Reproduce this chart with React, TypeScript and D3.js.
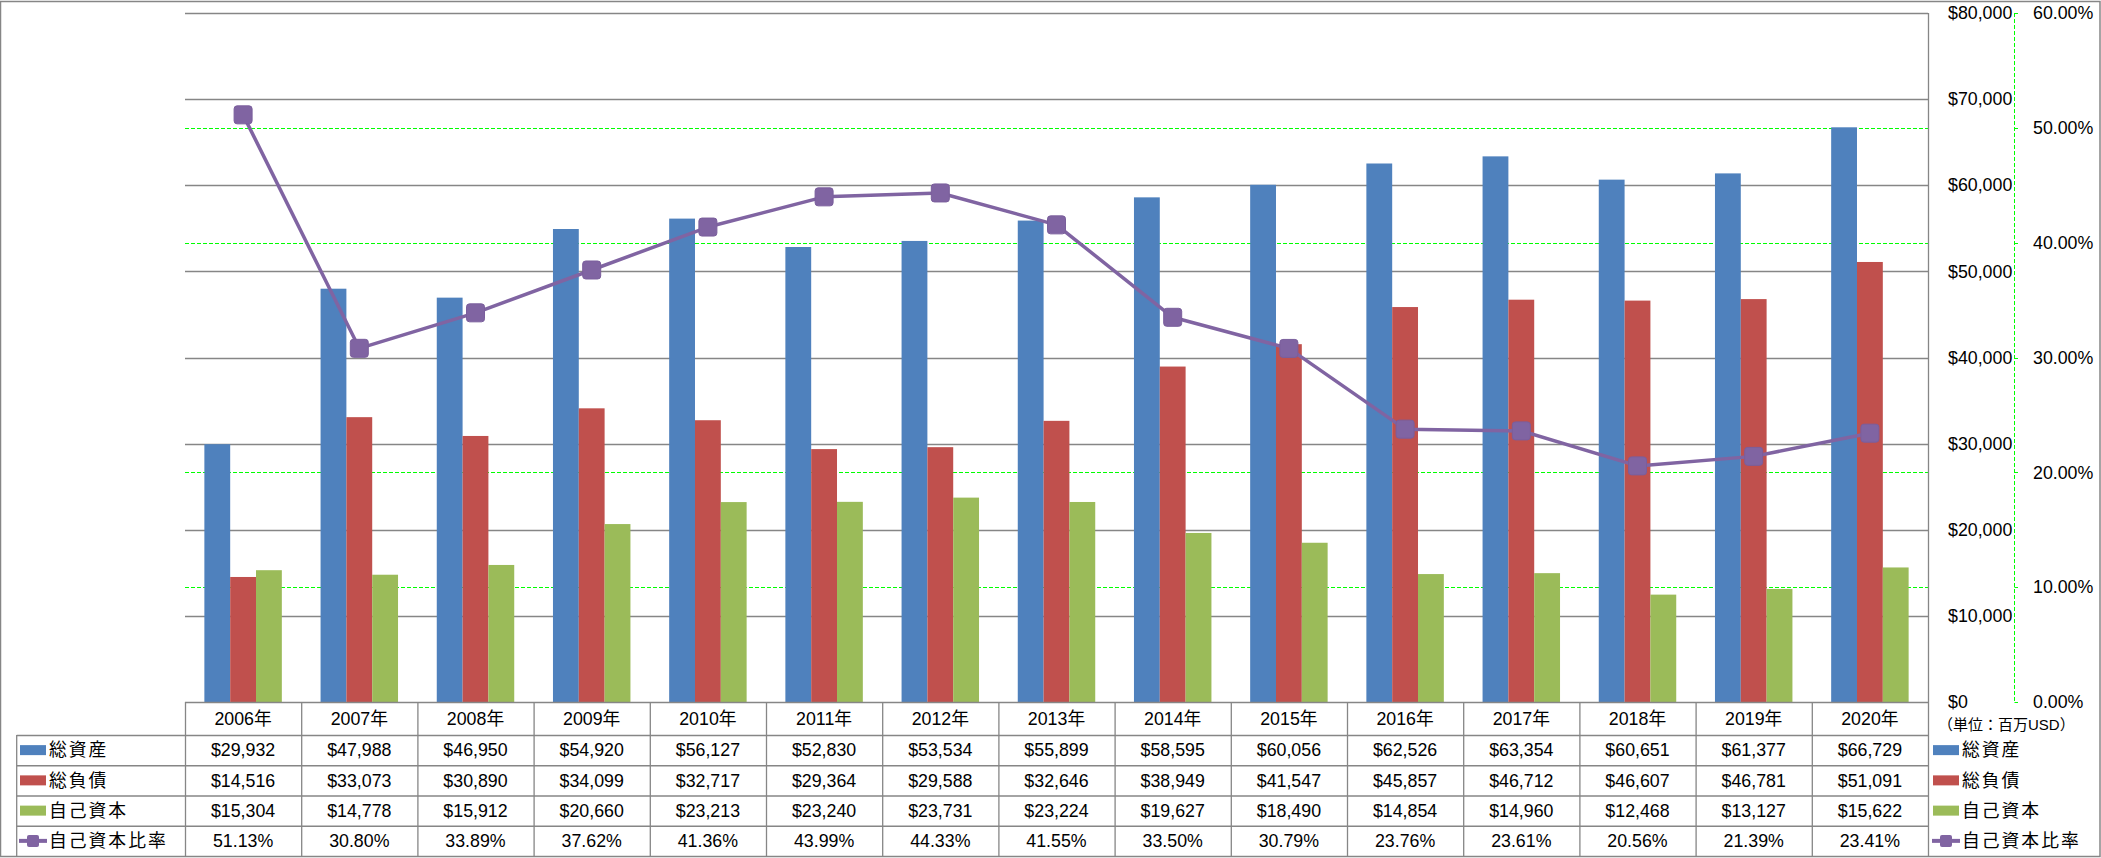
import React from "react";
import * as d3 from "d3";

const years = ["2006年","2007年","2008年","2009年","2010年","2011年","2012年","2013年","2014年","2015年","2016年","2017年","2018年","2019年","2020年"];
const totalAssets = [29932,47988,46950,54920,56127,52830,53534,55899,58595,60056,62526,63354,60651,61377,66729];
const totalLiabilities = [14516,33073,30890,34099,32717,29364,29588,32646,38949,41547,45857,46712,46607,46781,51091];
const equity = [15304,14778,15912,20660,23213,23240,23731,23224,19627,18490,14854,14960,12468,13127,15622];
const equityRatio = [51.13,30.80,33.89,37.62,41.36,43.99,44.33,41.55,33.50,30.79,23.76,23.61,20.56,21.39,23.41];
const seriesNames = ["総資産","総負債","自己資本"];
const lineName = "自己資本比率";
const primaryTicks = [0,10000,20000,30000,40000,50000,60000,70000,80000];
const secondaryTicks = [0,10,20,30,40,50,60];
const unitLabel = "（単位：百万USD）";

const COLORS = ["#4F81BD","#C0504D","#9BBB59"];
const PURPLE = "#8064A2";
const GRID = "#868686";
const FONT = "'Liberation Sans', 'Noto Sans CJK JP', sans-serif";

export default function App() {
  const W = 2101, H = 858;
  const left = 185, right = 1928, top = 13, bottom = 702;
  const tableLeft = 16.7;
  const rowY = [702, 735, 765.25, 795.5, 825.75, 856];

  const x = d3.scaleBand<string>().domain(years).range([left, right]).paddingInner(0).paddingOuter(0);
  const xs = d3.scaleBand<string>().domain(seriesNames).range([0, x.bandwidth()]).paddingInner(0).paddingOuter(0.75);
  const y = d3.scaleLinear().domain([0, 80000]).range([bottom, top]);
  const y2 = d3.scaleLinear().domain([0, 60]).range([bottom, top]);
  const seriesData = [totalAssets, totalLiabilities, equity];

  const fmtD = d3.format("$,");
  const line = d3.line<number>().x((_, i) => (x(years[i]) as number) + x.bandwidth() / 2).y(d => y2(d));

  const fs = 17.8;
  const rowCenters = rowY.slice(1, 5).map((v, i) => (v + rowY[i + 2]) / 2);

  const cellVals: string[][] = [
    totalAssets.map(v => fmtD(v)),
    totalLiabilities.map(v => fmtD(v)),
    equity.map(v => fmtD(v)),
    equityRatio.map(v => v.toFixed(2) + "%"),
  ];

  const legendKey = (k: number, xk: number, cy: number) =>
    k < 3 ? (
      <rect x={xk} y={cy - 5} width={26} height={10} fill={COLORS[k]} />
    ) : (
      <g>
        <line x1={xk - 1} x2={xk + 27} y1={cy} y2={cy} stroke={PURPLE} strokeWidth={4} />
        <rect x={xk + 7} y={cy - 6} width={12} height={12} rx={2} fill={PURPLE} />
      </g>
    );

  const names = [...seriesNames, lineName];

  return (
    <svg width={W} height={H} style={{ position: "absolute", left: 0, top: 0, display: "block" }} fontFamily={FONT}>
      <rect x={0} y={0} width={W} height={H} fill="#fff" />
      <rect x={0.5} y={1.5} width={W - 1.5} height={855} fill="none" stroke={GRID} strokeWidth={1.5} />

      {/* secondary gridlines */}
      {secondaryTicks.slice(1).filter(t => t < 60).map(t => (
        <line key={"s" + t} x1={left} x2={right} y1={Math.round(y2(t)) + 0.5} y2={Math.round(y2(t)) + 0.5} stroke="#00FF00" strokeWidth={1} strokeDasharray="4,2" />
      ))}
      {/* primary gridlines */}
      {primaryTicks.slice(1).map(t => (
        <line key={"g" + t} x1={left} x2={right} y1={Math.round(y(t)) + 0.5} y2={Math.round(y(t)) + 0.5} stroke={GRID} strokeWidth={1.3} />
      ))}

      {/* bars */}
      {seriesData.map((arr, k) =>
        arr.map((v, i) => (
          <rect key={k + "-" + i} x={(x(years[i]) as number) + (xs(seriesNames[k]) as number)} y={y(v)} width={xs.bandwidth()} height={bottom - y(v)} fill={COLORS[k]} />
        ))
      )}

      {/* line */}
      <path d={line(equityRatio) || ""} fill="none" stroke={PURPLE} strokeWidth={3.5} strokeLinejoin="round" />
      {equityRatio.map((v, i) => (
        <rect key={"m" + i} x={(x(years[i]) as number) + x.bandwidth() / 2 - 9} y={y2(v) - 9} width={18} height={18} rx={3} fill={PURPLE} stroke="#7A5E9C" strokeWidth={1} />
      ))}

      {/* right border of plot / table */}
      <line x1={right + 0.5} x2={right + 0.5} y1={top} y2={856} stroke={GRID} strokeWidth={1.3} />

      {/* primary axis labels */}
      {primaryTicks.map(t => (
        <text key={"pl" + t} x={1948} y={y(t)} dy="0.35em" fontSize={fs} fill="#000">{fmtD(t)}</text>
      ))}

      {/* secondary axis */}
      <line x1={2014.5} x2={2014.5} y1={top} y2={bottom} stroke="#00FF00" strokeWidth={1} strokeDasharray="4,2" />
      {secondaryTicks.map(t => (
        <line key={"st" + t} x1={2014.5} x2={2018} y1={Math.round(y2(t)) + 0.5} y2={Math.round(y2(t)) + 0.5} stroke="#00FF00" strokeWidth={1} />
      ))}
      {secondaryTicks.map(t => (
        <text key={"sl" + t} x={2033} y={y2(t)} dy="0.35em" fontSize={fs} fill="#000">{t.toFixed(2) + "%"}</text>
      ))}

      {/* data table */}
      {rowY.slice(0, 5).map((ry, i) => (
        <line key={"h" + i} x1={i === 0 ? left : tableLeft} x2={right} y1={ry + 0.5} y2={ry + 0.5} stroke={GRID} strokeWidth={1.3} />
      ))}
      <line x1={tableLeft} x2={tableLeft} y1={rowY[1]} y2={856} stroke={GRID} strokeWidth={1.3} />
      {years.map((yr, i) => (
        <line key={"v" + i} x1={(x(yr) as number) + 0.5} x2={(x(yr) as number) + 0.5} y1={bottom} y2={856} stroke={GRID} strokeWidth={1.3} />
      ))}
      {years.map((yr, i) => (
        <text key={"yr" + i} x={(x(yr) as number) + x.bandwidth() / 2} y={(rowY[0] + rowY[1]) / 2} dy="0.35em" textAnchor="middle" fontSize={fs} fill="#000">{yr}</text>
      ))}
      {cellVals.map((row, r) =>
        row.map((s, i) => (
          <text key={"c" + r + "-" + i} x={(x(years[i]) as number) + x.bandwidth() / 2} y={rowCenters[r]} dy="0.35em" textAnchor="middle" fontSize={fs} fill="#000">{s}</text>
        ))
      )}
      {names.map((n, k) => (
        <g key={"tl" + k}>
          {legendKey(k, 20, rowCenters[k])}
          <text x={49} y={rowCenters[k]} dy="0.35em" fontSize={fs} letterSpacing={2} fill="#000">{n}</text>
        </g>
      ))}

      {/* right legend */}
      <text x={1938} y={725} dy="0.35em" fontSize={15} fill="#000">{unitLabel}</text>
      {names.map((n, k) => (
        <g key={"rl" + k}>
          {legendKey(k, 1933, rowCenters[k])}
          <text x={1962} y={rowCenters[k]} dy="0.35em" fontSize={fs} letterSpacing={2} fill="#000">{n}</text>
        </g>
      ))}
    </svg>
  );
}
